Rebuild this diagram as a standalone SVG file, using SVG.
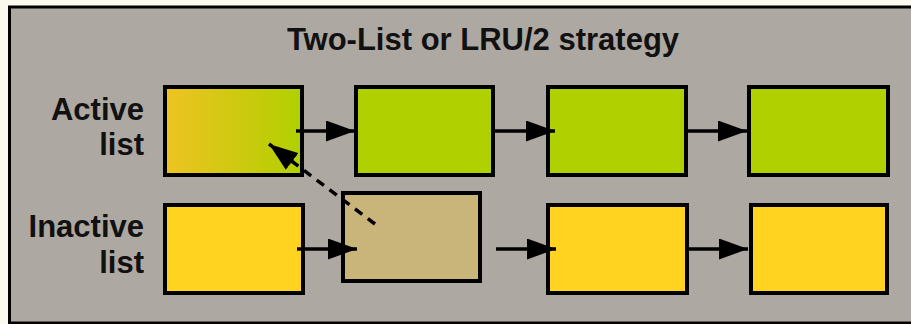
<svg xmlns="http://www.w3.org/2000/svg" width="911" height="324" viewBox="0 0 911 324">
  <style>
    .label { font-family: "Liberation Sans", Arial, sans-serif; font-weight: bold; font-size: 31px; fill: #111; }
    .box { stroke: #000; stroke-width: 4; }
    .green { fill: #b0d000; }
    .yellow { fill: #ffd320; }
    .tan { fill: #c9b47a; }
    .link { stroke: #000; stroke-width: 3.5; fill: none; marker-end: url(#head); }
    .dashed { stroke-dasharray: 9 7; }
  </style>
  <defs>
    <marker id="head" markerUnits="userSpaceOnUse" markerWidth="29" markerHeight="21" refX="29" refY="10.5" orient="auto">
      <path d="M0,0 L29,10.5 L0,21 Z" fill="#000"/>
    </marker>
    <linearGradient id="fade" x1="0" y1="0" x2="1" y2="0">
      <stop offset="0" stop-color="#efc322"/>
      <stop offset="1" stop-color="#b0d000"/>
    </linearGradient>
  </defs>

  <!-- page and frame -->
  <rect x="0" y="0" width="911" height="324" fill="#fbf9ee"/>
  <rect x="9.5" y="7" width="910" height="316" fill="#aea8a2" stroke="#000" stroke-width="3"/>

  <text class="label" x="483" y="50" text-anchor="middle">Two-List or LRU/2 strategy</text>

  <g id="row-labels">
    <text class="label" x="144" y="120" text-anchor="end">Active</text>
    <text class="label" x="144" y="155" text-anchor="end">list</text>
    <text class="label" x="144" y="237" text-anchor="end">Inactive</text>
    <text class="label" x="144" y="273" text-anchor="end">list</text>
  </g>

  <!-- active list -->
  <g id="active-1"><rect class="box" x="165" y="87" width="137" height="88" fill="url(#fade)"/></g>
  <g id="active-2"><rect class="box green" x="356" y="87" width="137" height="88"/></g>
  <g id="active-3"><rect class="box green" x="548" y="87" width="138" height="88"/></g>
  <g id="active-4"><rect class="box green" x="749" y="87" width="139" height="88"/></g>

  <!-- inactive list -->
  <g id="inactive-1"><rect class="box yellow" x="165" y="205" width="138" height="88"/></g>
  <g id="inactive-2"><rect class="box tan" x="343" y="193" width="137" height="88"/></g>
  <g id="inactive-3"><rect class="box yellow" x="548" y="205" width="139" height="88"/></g>
  <g id="inactive-4"><rect class="box yellow" x="751" y="205" width="136" height="88"/></g>

  <g id="connectors">
    <line class="link" x1="296" y1="131" x2="355" y2="131"/>
    <line class="link" x1="493" y1="131" x2="555" y2="131"/>
    <line class="link" x1="686" y1="131" x2="747" y2="131"/>
    <line class="link" x1="297" y1="249" x2="357" y2="249"/>
    <line class="link" x1="496" y1="249" x2="556" y2="249"/>
    <line class="link" x1="687" y1="249" x2="748" y2="249"/>
    <line class="link dashed" x1="375" y1="224" x2="269" y2="144"/>
  </g>
</svg>
